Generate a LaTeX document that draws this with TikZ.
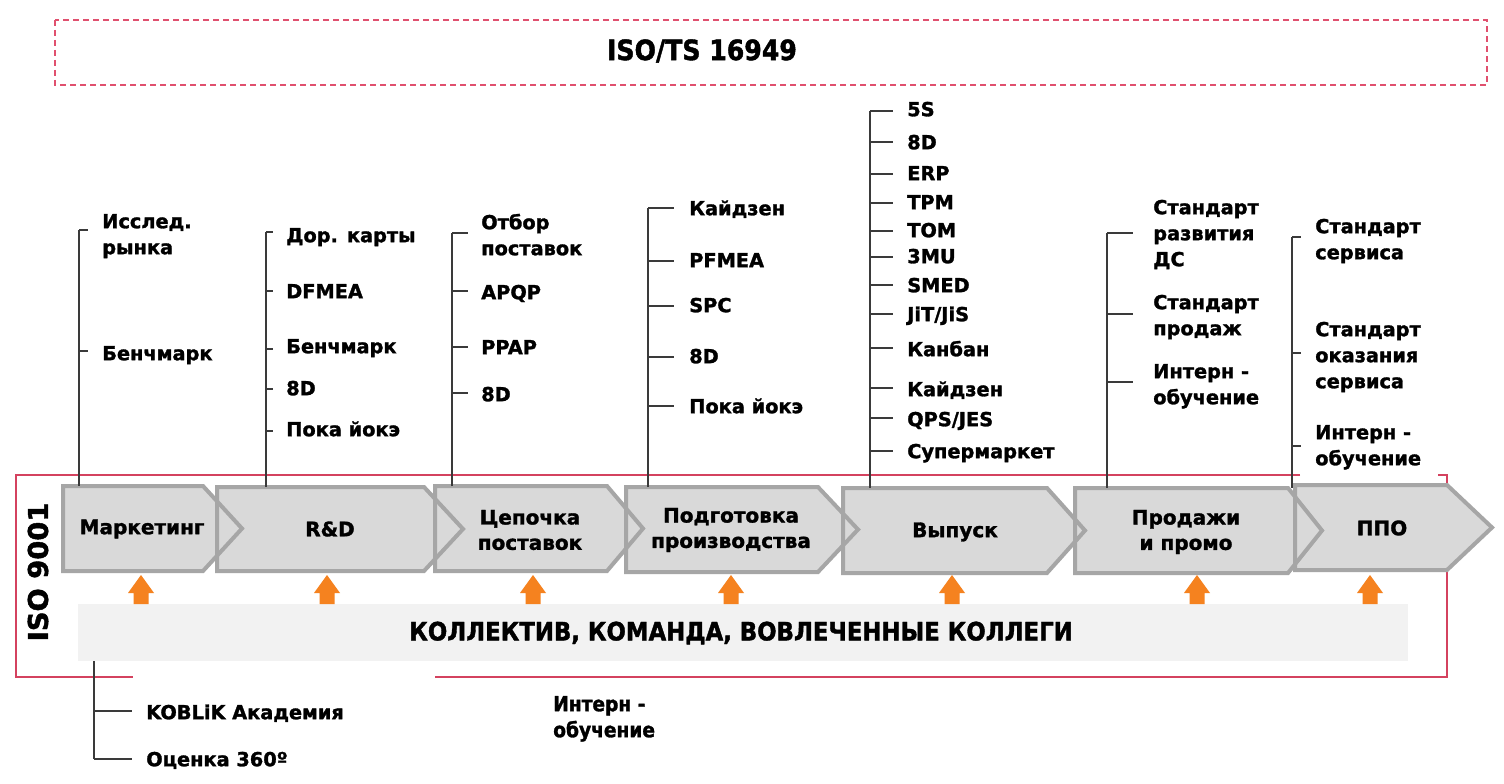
\documentclass[tikz,border=0pt]{standalone}
\usepackage{fontspec}
\setmainfont{DejaVu Sans}[BoldFeatures={FakeBold=1.5}]
\newfontfamily\condfont{DejaVu Sans Condensed}[BoldFont={DejaVu Sans Condensed Bold},BoldFeatures={FakeBold=1.5}]
\definecolor{isored}{HTML}{D4425F}
\definecolor{dashred}{HTML}{E0506E}
\definecolor{chevgray}{HTML}{D9D9D9}
\definecolor{chevedge}{HTML}{A6A6A6}
\definecolor{brline}{HTML}{3A3A3A}
\definecolor{bandgray}{HTML}{F2F2F2}
\definecolor{arroworange}{HTML}{F5821F}
\newcommand\itemfont{\fontsize{14.5}{19.5}\selectfont\bfseries}
\newcommand\chevfont{\fontsize{15}{19}\selectfont\bfseries}
\begin{document}
\begin{tikzpicture}[x=0.75pt,y=-0.75pt,
  item/.style={font=\itemfont, anchor=west, align=left, inner sep=0pt},
  chevlabel/.style={font=\chevfont, align=center, inner sep=0pt},
  br/.style={draw=brline, line width=1.1pt},
  redbox/.style={draw=isored, line width=1.1pt},
  dashbox/.style={draw=dashred, line width=1.1pt, dash pattern=on 4.5pt off 3pt},
  chevborder/.style={draw=chevedge, line width=3pt, line join=miter},
  uparrow/.style={fill=arroworange}]
\fill[white] (0,0) rectangle (1504,784);
\useasboundingbox (0,0) rectangle (1504,784);

% ISO/TS 16949 dashed frame
\draw[dashbox] (55,20) rectangle (1487,85);
\node[font=\condfont\fontsize{21}{24}\selectfont\bfseries, inner sep=0pt] (title) at (702,51) {ISO/TS 16949};

% ISO 9001 frame
\draw[redbox] (1300,475) -- (16,475) -- (16,677) -- (133,677);
\draw[redbox] (435,677) -- (1447,677) -- (1447,475) -- (1438,475);
\node[font=\fontsize{20.5}{24}\selectfont\bfseries, rotate=90, inner sep=0pt] (iso) at (38,572) {ISO 9001};

% band
\fill[bandgray] (78,604) rectangle (1408,661);
\node[font=\condfont\fontsize{19}{22}\selectfont\bfseries, inner sep=0pt] (band) at (741,633) {КОЛЛЕКТИВ, КОМАНДА, ВОВЛЕЧЕННЫЕ КОЛЛЕГИ};

% chevrons
\foreach \l/\b/\t/\ya/\yb in {63/203/242/486/571, 217/424/463/487/571, 435/607/643/486/571, 626/818/858/487/572, 843/1047/1085/488/573, 1075/1288/1322/488/573, 1295/1447/1492/485/570}
  \fill[chevgray] (\l,\ya) -- (\b,\ya) -- (\t,{(\ya+\yb)/2}) -- (\b,\yb) -- (\l,\yb) -- cycle;
\foreach \l/\b/\t/\ya/\yb in {63/203/242/486/571, 217/424/463/487/571, 435/607/643/486/571, 626/818/858/487/572, 843/1047/1085/488/573, 1075/1288/1322/488/573, 1295/1447/1492/485/570}
  \draw[chevborder] (\l,\ya) -- (\b,\ya) -- (\t,{(\ya+\yb)/2}) -- (\b,\yb) -- (\l,\yb) -- cycle;

\node[chevlabel] (ch1) at (142,529) {Маркетинг};
\node[chevlabel] (ch2) at (330,529) {R\&D};
\node[chevlabel] (ch3) at (530,530) {Цепочка\\поставок};
\node[chevlabel] (ch4) at (731,530) {Подготовка\\производства};
\node[chevlabel] (ch5) at (955,532) {Выпуск};
\node[chevlabel] (ch6) at (1186,532) {Продажи\\и промо};
\node[chevlabel] (ch7) at (1382,528) {ППО};

% arrows from band to chevrons
\foreach \ax in {141,327,533,731,952,1197,1370}
  \fill[uparrow] (\ax,575) -- (\ax+13,593) -- (\ax+7.5,593) -- (\ax+7.5,604) -- (\ax-7.5,604) -- (\ax-7.5,593) -- (\ax-13,593) -- cycle;

% column 1: Маркетинг
\coordinate (c1t) at (79,230); \coordinate (c1b) at (79,486);
\draw[br] (c1t) -- (c1b);
\draw[br] (79,230) -- ++(9,0);
\draw[br] (79,351) -- ++(9,0);
\node[item] (m1) at (102,236) {\strut Исслед.\\\strut рынка};
\node[item] (m2) at (102,355) {\strut Бенчмарк};

% column 2: R&D
\coordinate (c2t) at (266,232); \coordinate (c2b) at (266,487);
\draw[br] (c2t) -- (c2b);
\foreach \ty in {232,291,349,389,431} \draw[br] (266,\ty) -- ++(7,0);
\node[item] (r1) at (286,237) {\strut Дор. карты};
\node[item] (r2) at (286,293) {\strut DFMEA};
\node[item] (r3) at (286,348) {\strut Бенчмарк};
\node[item] (r4) at (286,390) {\strut 8D};
\node[item] (r5) at (286,431) {\strut Пока йокэ};

% column 3: Цепочка поставок
\coordinate (c3t) at (452,233); \coordinate (c3b) at (452,486);
\draw[br] (c3t) -- (c3b);
\foreach \ty in {233,291,347,393} \draw[br] (452,\ty) -- ++(16,0);
\node[item] (s1) at (481,237) {\strut Отбор\\\strut поставок};
\node[item] (s2) at (481,294) {\strut APQP};
\node[item] (s3) at (481,349) {\strut PPAP};
\node[item] (s4) at (481,396) {\strut 8D};

% column 4: Подготовка производства
\coordinate (c4t) at (648,208); \coordinate (c4b) at (648,487);
\draw[br] (c4t) -- (c4b);
\foreach \ty in {208,261,306,357,406} \draw[br] (648,\ty) -- ++(26,0);
\node[item] (p1) at (689,210) {\strut Кайдзен};
\node[item] (p2) at (689,262) {\strut PFMEA};
\node[item] (p3) at (689,307) {\strut SPC};
\node[item] (p4) at (689,358) {\strut 8D};
\node[item] (p5) at (689,408) {\strut Пока йокэ};

% column 5: Выпуск
\coordinate (c5t) at (870,111); \coordinate (c5b) at (870,488);
\draw[br] (c5t) -- (c5b);
\foreach \ty in {111,142,174,203,231,257,285,314,348,388,418,451} \draw[br] (870,\ty) -- ++(23,0);
\node[item] (v1) at (907,111) {\strut 5S};
\node[item] (v2) at (907,144) {\strut 8D};
\node[item] (v3) at (907,175) {\strut ERP};
\node[item] (v4) at (907,204) {\strut TPM};
\node[item] (v5) at (907,232) {\strut TOM};
\node[item] (v6) at (907,258) {\strut 3MU};
\node[item] (v7) at (907,287) {\strut SMED};
\node[item] (v8) at (907,316) {\strut JiT/JiS};
\node[item] (v9) at (907,351) {\strut Канбан};
\node[item] (v10) at (907,391) {\strut Кайдзен};
\node[item] (v11) at (907,421) {\strut QPS/JES};
\node[item] (v12) at (907,453) {\strut Супермаркет};

% column 6: Продажи и промо
\coordinate (c6t) at (1107,233); \coordinate (c6b) at (1107,488);
\draw[br] (c6t) -- (c6b);
\foreach \ty in {233,314,382} \draw[br] (1107,\ty) -- ++(26,0);
\node[item] (d1) at (1153,235) {\strut Стандарт\\\strut развития\\\strut ДС};
\node[item] (d2) at (1153,317) {\strut Стандарт\\\strut продаж};
\node[item] (d3) at (1153,386) {\strut Интерн -\\\strut обучение};

% column 7: ППО
\coordinate (c7t) at (1292,237); \coordinate (c7b) at (1292,488);
\draw[br] (c7t) -- (c7b);
\foreach \ty in {237,353,446} \draw[br] (1292,\ty) -- ++(9,0);
\node[item] (o1) at (1315,241) {\strut Стандарт\\\strut сервиса};
\node[item] (o2) at (1315,357) {\strut Стандарт\\\strut оказания\\\strut сервиса};
\node[item] (o3) at (1315,447) {\strut Интерн -\\\strut обучение};

% bottom bracket
\coordinate (bt) at (94,661); \coordinate (bb) at (94,759);
\draw[br] (bt) -- (bb);
\draw[br] (94,711) -- ++(38,0);
\draw[br] (94,759) -- ++(38,0);
\node[item] (k1) at (146,714) {\strut KOBLiK Академия};
\node[item] (k2) at (146,761) {\strut Оценка 360º};

% bottom middle text
\node[font=\condfont\fontsize{15.5}{19.5}\selectfont\bfseries, anchor=west, align=left, inner sep=0pt] (intern) at (553,719) {\strut Интерн -\\\strut обучение};
\end{tikzpicture}
\end{document}
